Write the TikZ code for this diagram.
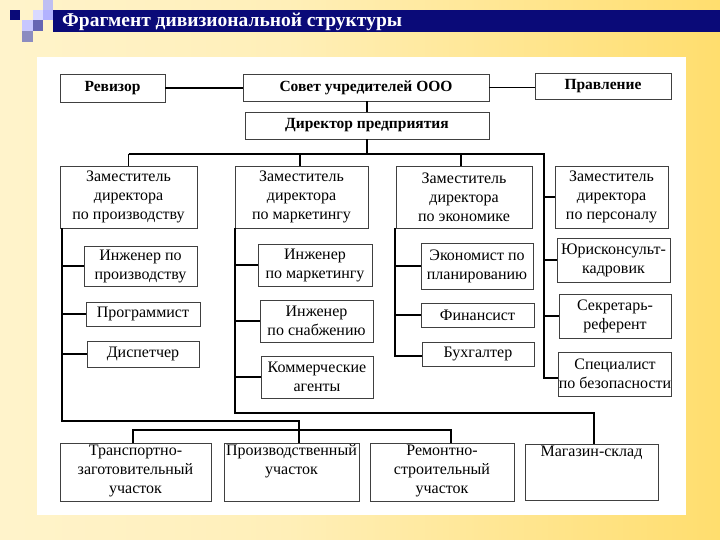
\documentclass[tikz,border=0pt]{standalone}
\usepackage{fontspec}
\setmainfont{Liberation Serif}
\definecolor{bgA}{HTML}{FFF9E3}
\definecolor{bgB}{HTML}{FFEFB8}
\definecolor{bgC}{HTML}{FFCF30}
\definecolor{navy}{HTML}{0A0A78}
\pgfdeclarehorizontalshading{bgshade}{100bp}{color(0bp)=(bgA); color(45bp)=(bgB); color(100bp)=(bgC)}
\tikzset{
  box/.style={draw=black!75, line width=0.9pt, fill=white, inner sep=0pt, align=center,
    font=\fontsize{16}{19}\selectfont},
  bbox/.style={box, font=\bfseries\fontsize{15.5}{18.5}\selectfont},
  conn/.style={draw=black, line width=1.8pt},
}
\newcommand\obox[7][]{\node[box,#1,minimum width={(#5-#3)*1pt},minimum height={(#6-#4)*1pt}] (#2) at ({(#3+#5)/2},{(#4+#6)/2}) {#7};}
\newcommand\topbox[3]{\parbox[c][#1pt][t]{#2pt}{\centering\vspace{1pt}#3}}
\begin{document}
\begin{tikzpicture}[x=1pt,y=-1pt]
\useasboundingbox (0,0) rectangle (720,540);
% background
\shade[shading=bgshade] (0,0) rectangle (720,540);
\fill[white] (37,57) rectangle (686,515);
% title decoration
\fill[navy] (53,10) rectangle (720,32);
\fill[navy] (10,10) rectangle (20,20);
\fill[black!20!blue!25] (43,0) rectangle (53,10);
\fill[blue!15] (33,10) rectangle (43,20);
\fill[blue!30] (43,10) rectangle (53,20);
\fill[blue!22] (22,20) rectangle (33,31);
\fill[blue!50!black!60] (33,20) rectangle (43,31);
\fill[blue!45!black!45] (22,31) rectangle (33,42);
\node[anchor=west, text=white, font=\bfseries\fontsize{19.5}{21}\selectfont, inner sep=0pt] (title) at (62,22) {Фрагмент дивизиональной структуры};
% top level
\obox[bbox]{rev}{60}{74}{165}{102}{Ревизор}
\obox[bbox]{sov}{243}{74}{489}{101}{Совет учредителей ООО}
\obox[bbox]{prav}{535}{73}{671}{99}{Правление}
\obox[bbox]{dir}{245}{112}{489}{139}{Директор предприятия}
% deputies
\obox{z1}{60}{166}{197}{228}{Заместитель\\директора\\по производству}
\obox{z2}{235}{166}{368}{228}{Заместитель\\директора\\по маркетингу}
\obox{z3}{396}{166}{532}{228}{Заместитель\\директора\\по экономике}
\obox{z4}{555}{166}{668}{228}{Заместитель\\директора\\по персоналу}
% column 1
\obox{ip}{84}{246}{197}{286}{Инженер по\\производству}
\obox{prog}{86}{302}{200}{326}{Программист}
\obox{disp}{87}{341}{199}{367}{Диспетчер}
% column 2
\obox{im}{258}{244}{372}{286}{Инженер\\по маркетингу}
\obox{isn}{260}{300}{373}{342}{Инженер\\по снабжению}
\obox{ka}{261}{356}{373}{398}{Коммерческие\\агенты}
% column 3
\obox{ek}{421}{243}{533}{289}{Экономист по\\планированию}
\obox{fin}{421}{303}{534}{327}{Финансист}
\obox{buh}{422}{342}{534}{366}{Бухгалтер}
% column 4
\obox{ju}{557}{238}{670}{282}{Юрисконсульт-\\кадровик}
\obox{sek}{559}{294}{671}{338}{Секретарь-\\референт}
\obox{spec}{559}{352}{671}{396}{Специалист\\по безопасности}
% bottom row
\obox{tr}{60}{443}{211}{501}{\topbox{56}{150}{Транспортно-\\заготовительный\\участок}}
\obox{pr}{224}{443}{359}{501}{\topbox{56}{135}{Производственный\\участок}}
\obox{rem}{370}{443}{514}{501}{\topbox{56}{144}{Ремонтно-\\строительный\\участок}}
\obox{mag}{525}{444}{658}{500}{\topbox{54}{133}{Магазин-склад}}
% coordinates
\coordinate (bus) at (367,154);
\coordinate (r4) at (544,154);
\coordinate (r4b) at (544,378);
\coordinate (c1t) at (62,228);
\coordinate (c1b) at (62,421);
\coordinate (j1) at (299,421);
\coordinate (c2t) at (235,228);
\coordinate (c2b) at (235,413);
\coordinate (j3) at (594,413);
\coordinate (c3t) at (395,228);
\coordinate (c3b) at (395,356);
\coordinate (j2a) at (133,430);
\coordinate (j2b) at (451,430);
% connectors
\begin{scope}[conn]
\draw (rev.east) -- (rev.east -| sov.west);
\draw (sov.east) -- (sov.east -| prav.west);
\draw (sov.south -| 367,0) -- (dir.north -| 367,0);
\draw (dir.south -| bus) -- (bus);
\draw (z1.north |- bus) -- (r4) -- (r4b) -- (r4b -| spec.west);
\draw (z1.north |- bus) -- (z1.north);
\draw (z2.north -| 300,0) -- (300,154);
\draw (z3.north -| 461,0) -- (461,154);
\draw (z4.west) -- (z4.west -| r4);
\draw (ju.west) -- (ju.west -| r4);
\draw (sek.west) -- (sek.west -| r4);
% column 1
\draw (c1t) -- (c1b) -- (j1) -- (j1 |- pr.north);
\draw (ip.west) -- (ip.west -| c1t);
\draw (prog.west) -- (prog.west -| c1t);
\draw (disp.west) -- (disp.west -| c1t);
% column 2
\draw (c2t) -- (c2b) -- (j3) -- (j3 |- mag.north);
\draw (im.west) -- (im.west -| c2t);
\draw (isn.west) -- (isn.west -| c2t);
\draw (ka.west) -- (ka.west -| c2t);
% column 3
\draw (c3t) -- (c3b) -- (c3b -| buh.west);
\draw (ek.west) -- (ek.west -| c3t);
\draw (fin.west) -- (fin.west -| c3t);
% bottom bus
\draw (j2a |- tr.north) -- (j2a) -- (j2b) -- (j2b |- rem.north);
\end{scope}
\end{tikzpicture}
\end{document}
